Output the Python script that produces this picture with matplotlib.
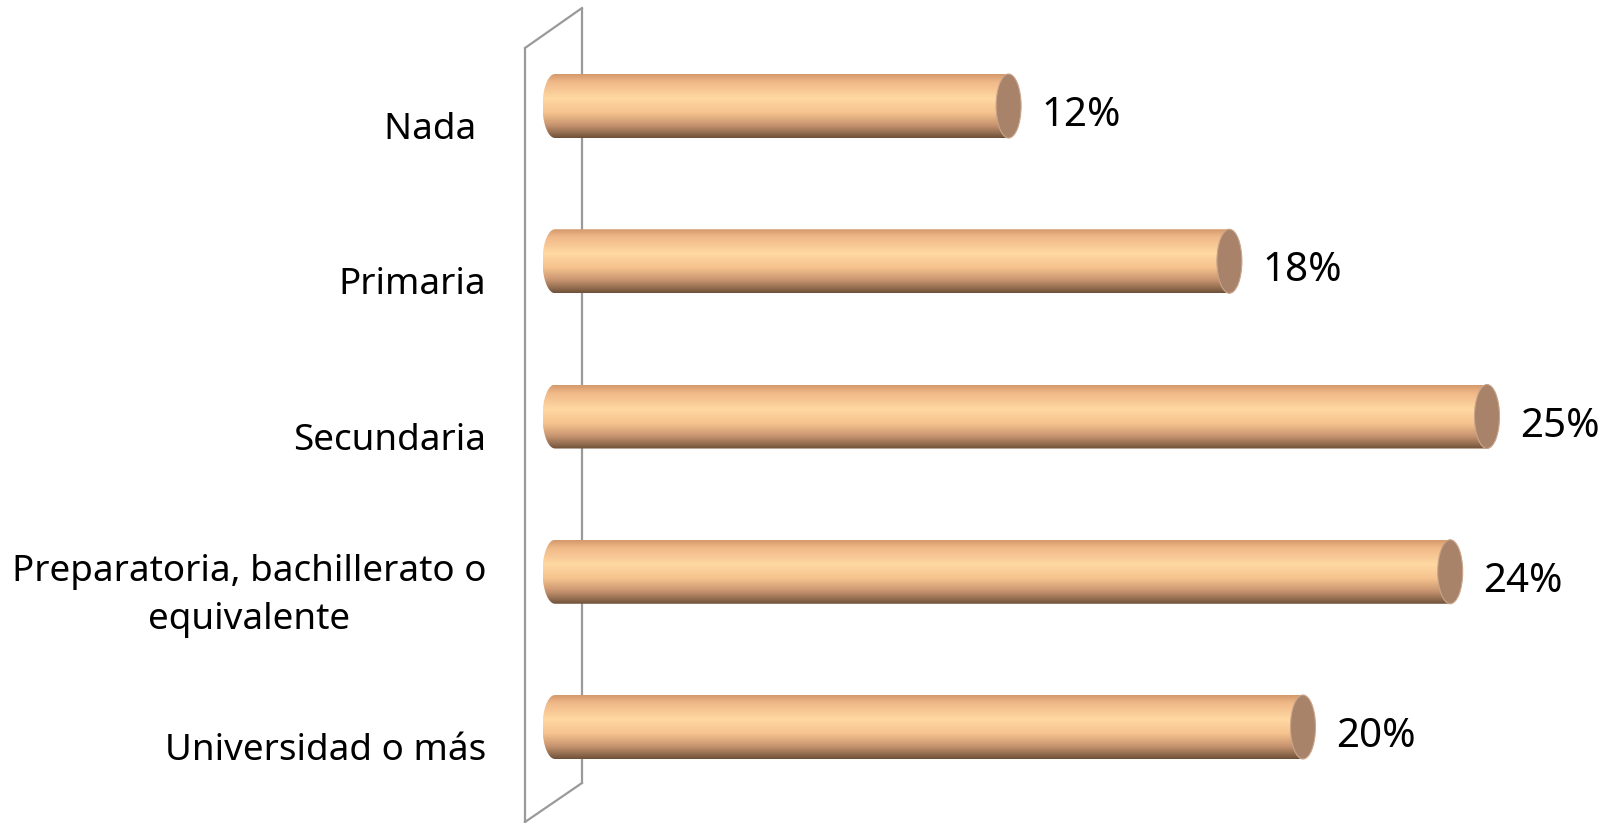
import numpy as np
import matplotlib
matplotlib.use("Agg")
import matplotlib.pyplot as plt
from matplotlib.path import Path
from matplotlib.patches import PathPatch, Ellipse
from matplotlib.colors import to_rgb

categories = ["Nada ", "Primaria", "Secundaria",
              "Preparatoria, bachillerato o\nequivalente", "Universidad o más"]
values = [12, 18, 25, 24, 20]
value_labels = ["12%", "18%", "25%", "24%", "20%"]

plt.rcParams['font.family'] = ['Noto Sans', 'DejaVu Sans']

W, H = 1618, 823
fig = plt.figure(figsize=(W / 100, H / 100), dpi=100)
ax = fig.add_axes([0, 0, 1, 1])

# pixel mapping helpers (layout only)
x0px, pxper = 567.0, 36.8
y0px, ystep = 106.0, 155.25
ax.set_xlim((0 - x0px) / pxper, (W - x0px) / pxper)
ax.set_ylim((H - y0px) / ystep, (0 - y0px) / ystep)
ax.axis('off')

def dx(px):
    return (px - x0px) / pxper

def dy(py):
    return (py - y0px) / ystep

# back wall (3D side wall)
wall_c = '#9a9a9a'
lx, rx = dx(525), dx(582)
ax.plot([lx, lx], [dy(48), dy(823)], color=wall_c, lw=1.6, solid_capstyle='butt')
ax.plot([rx, rx], [dy(8), dy(783)], color=wall_c, lw=1.6, solid_capstyle='butt')
ax.plot([lx, rx], [dy(48), dy(8)], color=wall_c, lw=1.6)
ax.plot([lx, rx], [dy(822), dy(783)], color=wall_c, lw=1.6)

# vertical gradient for cylinders
stops = [(0.0, '#d49a6c'), (0.12, '#f0b888'), (0.38, '#ffd8a2'),
         (0.6, '#f6c38e'), (0.8, '#c79470'), (0.93, '#8f6a4e'), (1.0, '#6e5038')]
n = 128
t = np.linspace(0, 1, n)
pos = [s[0] for s in stops]
cols = np.array([to_rgb(s[1]) for s in stops])
grad = np.stack([np.interp(t, pos, cols[:, k]) for k in range(3)], axis=-1)
grad = grad[:, None, :]

bar_h = 64 / ystep
ell_w = 25 / pxper
end_color = '#a8836a'
base = dx(555)  # bar base sits against the back wall

for i, (v, lab) in enumerate(zip(values, value_labels)):
    top, bot = i - bar_h / 2, i + bar_h / 2
    a = ell_w / 2
    th = np.linspace(np.pi / 2, 3 * np.pi / 2, 40)
    arc = np.column_stack([base + a * np.cos(th), i - (bar_h / 2) * np.sin(th)])
    verts = np.vstack([[v, top], arc, [v, bot], [v, top]])
    codes = [Path.MOVETO] + [Path.LINETO] * (len(verts) - 2) + [Path.CLOSEPOLY]
    clip = PathPatch(Path(verts, codes), facecolor='none', edgecolor='none',
                     transform=ax.transData)
    ax.add_patch(clip)
    im = ax.imshow(grad, extent=(base - a, v, bot, top), origin='upper',
                   aspect='auto', interpolation='bilinear', zorder=2)
    im.set_clip_path(clip)
    ax.add_patch(Ellipse((v, i), width=ell_w, height=bar_h,
                         facecolor=end_color, edgecolor='#c9a58a', lw=0.8, zorder=3))
    ax.text(v + 33 / pxper, i + 10 / ystep, lab, fontsize=29, ha='left',
            va='center', color='black')
    ax.text(dx(486), i + 24 / ystep, categories[i], fontsize=26.5, ha='right',
            va='center', multialignment='center', color='black',
            linespacing=1.45)

fig.savefig("out.png", dpi=100)
